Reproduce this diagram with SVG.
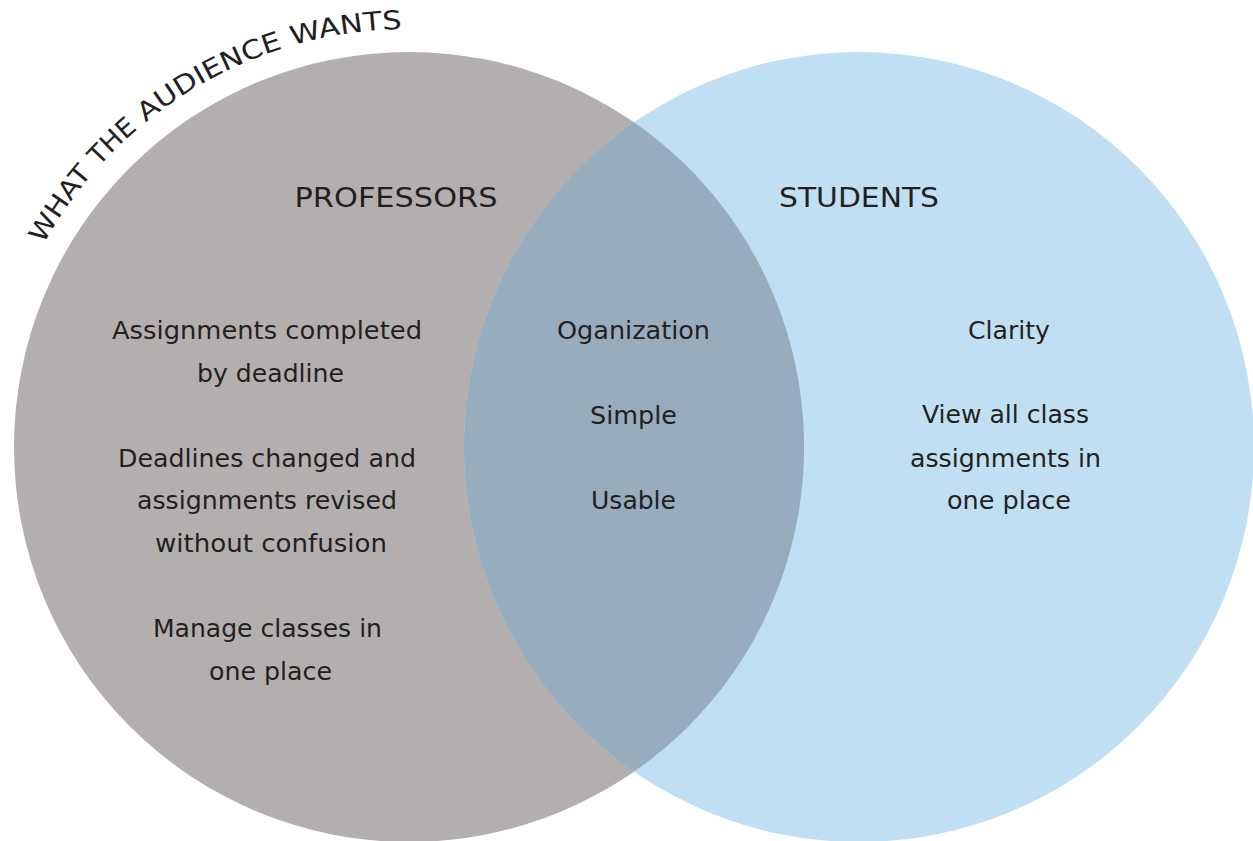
<svg xmlns="http://www.w3.org/2000/svg" width="1253" height="841" viewBox="0 0 1253 841">
<style>
.t{font-family:"DejaVu Sans","Open Sans",sans-serif;font-size:24px;fill:#231f20;text-anchor:middle}
.h{font-family:"DejaVu Sans","Open Sans",sans-serif;font-size:27px;fill:#231f20;text-anchor:middle}
.c{font-family:"DejaVu Sans","Open Sans",sans-serif;font-size:26px;fill:#231f20}
</style>
<defs>
<path id="arc" d="M 43.4 244.4 A 418 418 0 0 1 409 29 A 418 418 0 0 1 500 39"/>
</defs>
<rect width="1253" height="841" fill="#ffffff"/>
<g id="professors-circle">
<circle cx="409" cy="447" r="395" fill="#b3afae"/>
</g>
<g id="students-circle">
<circle cx="859" cy="447" r="395" fill="#c1dff3"/>
</g>
<g id="overlap">
<path d="M 634 122.3 A 395 395 0 0 1 634 771.7 A 395 395 0 0 1 634 122.3 Z" fill="#97adbd"/>
</g>
<g id="title">
<text class="c"><textPath href="#arc" startOffset="0" textLength="86" lengthAdjust="spacingAndGlyphs">WHAT</textPath></text>
<text class="c"><textPath href="#arc" startOffset="96" textLength="54" lengthAdjust="spacingAndGlyphs">THE</textPath></text>
<text class="c"><textPath href="#arc" startOffset="160" textLength="157" lengthAdjust="spacingAndGlyphs">AUDIENCE</textPath></text>
<text class="c"><textPath href="#arc" startOffset="327" textLength="111" lengthAdjust="spacingAndGlyphs">WANTS</textPath></text>
</g>
<g id="professors">
<text class="h" x="396" y="207" textLength="203" lengthAdjust="spacingAndGlyphs">PROFESSORS</text>
<text class="t" x="267" y="339" textLength="310" lengthAdjust="spacingAndGlyphs">Assignments completed</text>
<text class="t" x="270.5" y="382" textLength="147" lengthAdjust="spacingAndGlyphs">by deadline</text>
<text class="t" x="267" y="467" textLength="298" lengthAdjust="spacingAndGlyphs">Deadlines changed and</text>
<text class="t" x="267" y="509" textLength="260" lengthAdjust="spacingAndGlyphs">assignments revised</text>
<text class="t" x="271" y="552" textLength="232" lengthAdjust="spacingAndGlyphs">without confusion</text>
<text class="t" x="267.5" y="637" textLength="229" lengthAdjust="spacingAndGlyphs">Manage classes in</text>
<text class="t" x="270.5" y="680" textLength="123" lengthAdjust="spacingAndGlyphs">one place</text>
</g>
<g id="shared">
<text class="t" x="633.5" y="339" textLength="153" lengthAdjust="spacingAndGlyphs">Oganization</text>
<text class="t" x="633.5" y="424" textLength="87" lengthAdjust="spacingAndGlyphs">Simple</text>
<text class="t" x="633.5" y="509" textLength="85" lengthAdjust="spacingAndGlyphs">Usable</text>
</g>
<g id="students">
<text class="h" x="859" y="207" textLength="160" lengthAdjust="spacingAndGlyphs">STUDENTS</text>
<text class="t" x="1009" y="339" textLength="82" lengthAdjust="spacingAndGlyphs">Clarity</text>
<text class="t" x="1005.5" y="423" textLength="167" lengthAdjust="spacingAndGlyphs">View all class</text>
<text class="t" x="1005.5" y="467" textLength="191" lengthAdjust="spacingAndGlyphs">assignments in</text>
<text class="t" x="1009" y="509" textLength="124" lengthAdjust="spacingAndGlyphs">one place</text>
</g>
</svg>
